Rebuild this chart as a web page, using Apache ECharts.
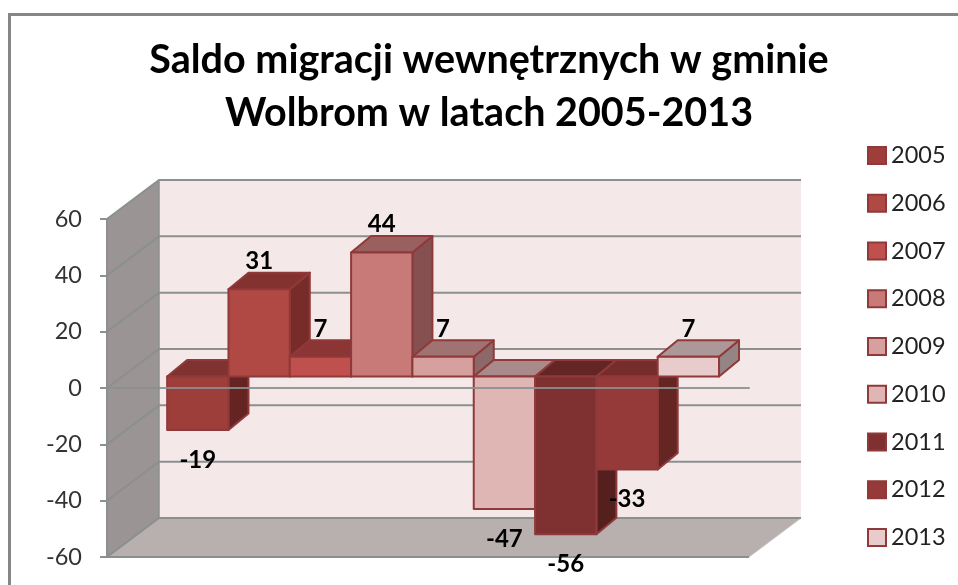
<!DOCTYPE html>
<html><head><meta charset="utf-8">
<style>html,body{margin:0;padding:0;background:#fff}#c{width:958px;height:585px}</style>
<script src="https://cdn.jsdelivr.net/npm/echarts@6/dist/echarts.min.js"></script>
</head><body><div id="c"></div>
<script>
const years = ['2005','2006','2007','2008','2009','2010','2011','2012','2013'];
const saldo = [-19,31,7,44,7,-47,-56,-33,7];
const yTicks = [-60,-40,-20,0,20,40,60];
const frontColors = ['#9e3e3b','#b04844','#c0504d','#c87a79','#d6a09e','#e0b6b4','#7f3030','#953a38','#e8cbcb'];
const topColors   = ['#7f3230','#843230','#8c3535','#9a5f5f','#a07272','#a88a8a','#642625','#752c2b','#ac9898'];
const sideColors  = ['#652422','#772c2a','#7d2e2c','#865050','#8c6868','#948080','#551f1e','#642523','#948484'];
const edgeColor = '#90393a';
const gridColor = '#8b908f';
const X_MIN = -1.22, X_MAX = 9.25;
const WALL_DX = 52, WALL_DY = -39, BAR_DX = 20, BAR_DY = -16.5, BAR_OFF_X = 16, BAR_OFF_Y = -11.5;

function renderWalls(params, api) {
  const lt = api.coord([X_MIN, 60]), lb = api.coord([X_MIN, -60]), rb = api.coord([X_MAX, -60]);
  const b = (p) => [p[0] + WALL_DX, p[1] + WALL_DY];
  const kids = [
    {type:'polygon', shape:{points:[lt, b(lt), b(lb), lb]}, style:{fill:'#9a9594'}},
    {type:'polygon', shape:{points:[b(lt), [b(rb)[0], b(lt)[1]], b(rb), b(lb)]}, style:{fill:'#f4e8e8'}},
    {type:'polygon', shape:{points:[lb, b(lb), b(rb), rb]}, style:{fill:'#b8afaf'}},
    {type:'polyline', shape:{points:[rb, lb]}, style:{stroke:gridColor, lineWidth:2, fill:null}},
    {type:'polyline', shape:{points:[rb, b(rb)]}, style:{stroke:'#c9c3c3', lineWidth:1, fill:null}},
    {type:'polyline', shape:{points:[b(lt), b(lb)]}, style:{stroke:gridColor, lineWidth:1.5, fill:null}}
  ];
  yTicks.forEach(t => {
    const p = api.coord([X_MIN, t]), q = b(p);
    kids.push({type:'polyline', shape:{points:[p, q, [b(rb)[0], q[1]]]}, style:{stroke:gridColor, lineWidth:2, fill:null}});
  });
  return {type:'group', children:kids};
}

function renderBar(i) {
  return function (params, api) {
    const x = api.value(0), v = api.value(1);
    const w = api.size([1, 0])[0];
    const c0 = api.coord([x, 0]), c1 = api.coord([x, v]);
    const xl = c0[0] - w/2 + BAR_OFF_X, xr = xl + w;
    const y0 = c0[1] + BAR_OFF_Y, yv = c1[1] + BAR_OFF_Y;
    const top = Math.min(y0, yv), bot = Math.max(y0, yv);
    const s = {stroke:edgeColor, lineWidth:2, lineJoin:'round'};
    const lab = v >= 0 ? yv - 28 : yv + 30;
    return {type:'group', children:[
      {type:'polygon', shape:{points:[[xr,top],[xr+BAR_DX,top+BAR_DY],[xr+BAR_DX,bot+BAR_DY],[xr,bot]]}, style:Object.assign({fill:sideColors[i]}, s)},
      {type:'polygon', shape:{points:[[xl,top],[xl+BAR_DX,top+BAR_DY],[xr+BAR_DX,top+BAR_DY],[xr,top]]}, style:Object.assign({fill:topColors[i]}, s)},
      {type:'rect', shape:{x:xl, y:top, width:w, height:bot-top}, style:Object.assign({fill:frontColors[i]}, s)},
      {type:'text', x:xl+w/2, y:lab, style:{text:String(v), fill:'#000', font:'bold 24px Lato', align:'center', verticalAlign:'middle'}}
    ]};
  };
}

const chart = echarts.init(document.getElementById('c'), null, {renderer:'canvas'});
chart.setOption({
  animation:false,
  backgroundColor:'#fff',
  title:{text:'Saldo migracji wewnętrznych w gminie\nWolbrom w latach 2005-2013', left:484, top:29, textAlign:'center',
    textStyle:{fontFamily:'Lato', fontWeight:'bold', fontSize:39.5, lineHeight:53, color:'#000'}},
  legend:{orient:'vertical', left:867, top:143.5, padding:0, itemWidth:18, itemHeight:17, itemGap:23.75, icon:'rect', data:years,
    textStyle:{fontFamily:'Lato', fontSize:23.5, color:'#222', lineHeight:17}},
  grid:{left:107, top:219, width:642, height:338},
  xAxis:{type:'value', min:X_MIN, max:X_MAX, splitLine:{show:false}, axisTick:{show:false}, axisLabel:{show:false}, z:10,
    axisLine:{show:true, onZero:true, lineStyle:{color:gridColor, width:2, opacity:0.9}}},
  yAxis:{type:'value', min:-60, max:60, interval:20, splitLine:{show:false}, z:10,
    axisLine:{show:true, onZero:false, lineStyle:{color:gridColor, width:2}},
    axisTick:{show:true, length:7, lineStyle:{color:gridColor, width:2}},
    axisLabel:{margin:25, fontFamily:'Lato', fontSize:23.5, color:'#333'}},
  series:[
    {type:'custom', name:'walls', z:1, silent:true, data:[[0,0]], renderItem:renderWalls, clip:false}
  ].concat(years.map((y,i)=>({
    type:'custom', name:y, z:2+i, clip:false, data:[[i, saldo[i]]], renderItem:renderBar(i),
    encode:{x:0,y:1},
    itemStyle:{color:frontColors[i], borderColor:edgeColor, borderWidth:2}
  }))),
  graphic:[
    {type:'polyline', z:100, shape:{points:[[9.5,585],[9.5,14.5],[958,14.5]]}, style:{stroke:'#868686', lineWidth:3, fill:null}}
  ]
});
</script></body></html>
